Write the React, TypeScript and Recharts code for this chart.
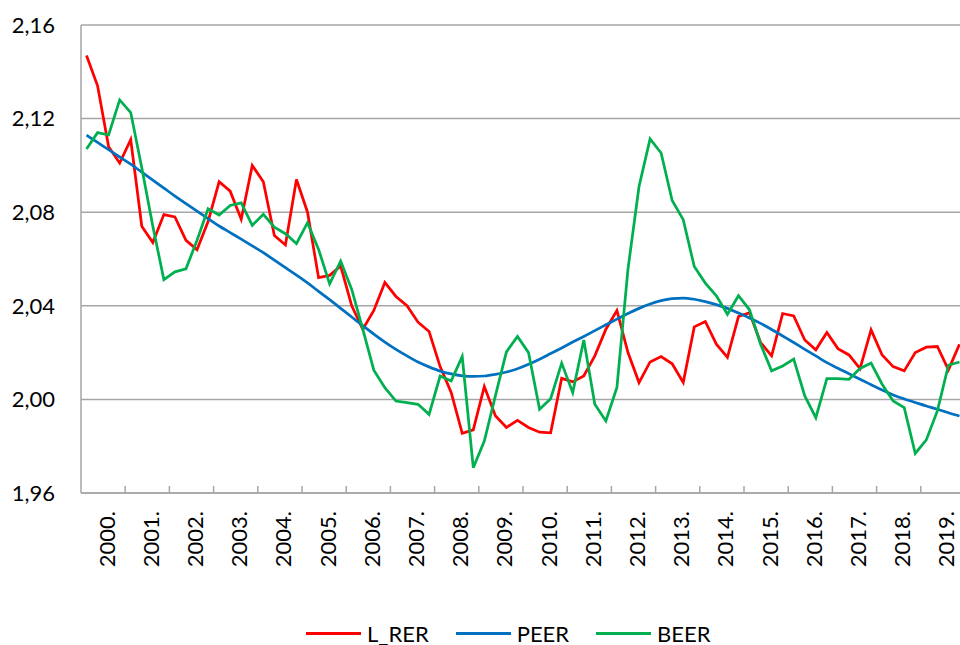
import { LineChart, Line, XAxis, YAxis, CartesianGrid, Legend } from 'recharts';

const years = [
  '2000.', '2001.', '2002.', '2003.', '2004.', '2005.', '2006.', '2007.', '2008.', '2009.',
  '2010.', '2011.', '2012.', '2013.', '2014.', '2015.', '2016.', '2017.', '2018.', '2019.',
];
const quarterNames = ['Q1', 'Q2', 'Q3', 'Q4'];

const yTicks = [1.96, 2.0, 2.04, 2.08, 2.12, 2.16];

// L_RER, quarterly 2000Q1 - 2019Q4
const lRer = [
  2.147, 2.134, 2.108, 2.101, 2.111, 2.074, 2.067, 2.079, 2.078, 2.068,
  2.064, 2.076, 2.093, 2.089, 2.077, 2.100, 2.093, 2.070, 2.066, 2.094,
  2.080, 2.052, 2.053, 2.057, 2.040, 2.030, 2.038, 2.050, 2.044, 2.040,
  2.033, 2.029, 2.014, 2.003, 1.9855, 1.987, 2.0055, 1.993, 1.988, 1.991,
  1.988, 1.986, 1.9857, 2.009, 2.0075, 2.010, 2.0186, 2.030, 2.038, 2.020,
  2.0072, 2.016, 2.0183, 2.0152, 2.0072, 2.031, 2.0333, 2.0236, 2.018, 2.0354,
  2.037, 2.0243, 2.0186, 2.0367, 2.0357, 2.0254, 2.0212, 2.0286, 2.0217, 2.019,
  2.0132, 2.0297, 2.019, 2.014, 2.0122, 2.020, 2.0223, 2.0226, 2.0126, 2.0236,
];

const peer = [
  2.1129, 2.1098, 2.1067, 2.1036, 2.1005, 2.0971, 2.0937, 2.0903, 2.0869, 2.0837,
  2.0805, 2.0773, 2.0741, 2.0713, 2.0685, 2.0656, 2.0627, 2.0595, 2.0563, 2.0531,
  2.0498, 2.0462, 2.0426, 2.0389, 2.0352, 2.0315, 2.0279, 2.0245, 2.0214, 2.0186,
  2.016, 2.0139, 2.0121, 2.0109, 2.0101, 2.0098, 2.01, 2.0107, 2.0117, 2.0131,
  2.015, 2.0172, 2.0196, 2.022, 2.0245, 2.0269, 2.0294, 2.0319, 2.0343, 2.0367,
  2.0389, 2.0408, 2.0422, 2.0431, 2.0433, 2.0428, 2.0418, 2.0405, 2.0389, 2.0369,
  2.0348, 2.0325, 2.0299, 2.0271, 2.0243, 2.0214, 2.0186, 2.0157, 2.0133, 2.011,
  2.0086, 2.0063, 2.004, 2.0019, 2.0002, 1.9987, 1.9972, 1.9958, 1.9943, 1.9929,
];

const beer = [
  2.107, 2.114, 2.113, 2.128, 2.1226, 2.099, 2.074, 2.0512, 2.0545, 2.0558,
  2.068, 2.0815, 2.0788, 2.0829, 2.084, 2.0744, 2.0791, 2.0736, 2.0708, 2.0666,
  2.0755, 2.0641, 2.0494, 2.0591, 2.047, 2.030, 2.0125, 2.005, 1.9993, 1.9986,
  1.9979, 1.9936, 2.010, 2.0079, 2.0183, 1.9708, 1.9822, 2.0015, 2.0203, 2.0269,
  2.020, 1.9958, 2.0003, 2.0155, 2.0029, 2.0254, 1.9979, 1.9908, 2.0051, 2.0557,
  2.091, 2.1113, 2.1053, 2.085, 2.0768, 2.0568, 2.0497, 2.0443, 2.0364, 2.0443,
  2.0383, 2.0236, 2.0122, 2.0143, 2.0172, 2.0015, 1.9922, 2.0089, 2.0089, 2.0086,
  2.0132, 2.0155, 2.0065, 1.9993, 1.9965, 1.9769, 1.9827, 1.9951, 2.0146, 2.016,
];

const quarters = years.flatMap((y) => quarterNames.map((q) => y + q));
const data = quarters.map((q, i) => ({ q, lRer: lRer[i], peer: peer[i], beer: beer[i] }));

const FONT = 'Lato, "Open Sans", sans-serif';
const GRID = '#a6a6a6';

const YearTick = (props: any) => {
  const { x, y, payload } = props;
  const half = payload.offset ?? 5.52;
  const x0 = x - half;
  const lx = x0 + 26;
  const ly = y + 18;
  return (
    <g>
      {payload.index !== 0 && (
        <line x1={x0} x2={x0} y1={y} y2={y - 7} stroke={GRID} strokeWidth={1.5} />
      )}
      <text
        x={lx}
        y={ly}
        transform={`rotate(-90 ${lx} ${ly})`}
        textAnchor="end"
        dy="0.35em"
        fontSize={22}
        fontFamily={FONT}
        fill="#000"
      >
        {String(payload.value).slice(0, 5)}
      </text>
    </g>
  );
};

const legendItems = [
  { key: 'lRer', label: 'L_RER', color: '#ff0000' },
  { key: 'peer', label: 'PEER', color: '#0070c0' },
  { key: 'beer', label: 'BEER', color: '#00b050' },
];

const LegendContent = () => (
  <div
    style={{
      display: 'flex',
      alignItems: 'center',
      paddingLeft: 306,
      paddingTop: 28,
      height: 24,
      fontFamily: FONT,
      fontSize: 22,
      color: '#000',
    }}
  >
    {legendItems.map((it) => (
      <div key={it.key} style={{ display: 'flex', alignItems: 'center', marginRight: 27 }}>
        <div style={{ width: 55, height: 3, background: it.color, marginRight: 6 }} />
        <span>{it.label}</span>
      </div>
    ))}
  </div>
);

export default function App() {
  return (
    <div style={{ position: 'absolute', left: 0, top: 0, width: 960, height: 645, overflow: 'hidden', background: '#fff' }}>
      <LineChart width={965} height={645} data={data} margin={{ top: 25, right: 0, bottom: 0, left: 0 }}>
        <CartesianGrid vertical={false} stroke={GRID} strokeWidth={1.5} />
        <XAxis
          dataKey="q"
          scale="band"
          interval={3}
          height={100}
          tickLine={false}
          tickSize={0}
          tickMargin={0}
          axisLine={{ stroke: GRID, strokeWidth: 1.5 }}
          tick={<YearTick />}
        />
        <YAxis
          width={81}
          domain={[1.96, 2.16]}
          ticks={yTicks}
          interval={0}
          allowDataOverflow
          tickLine={false}
          tickSize={0}
          tickMargin={26}
          axisLine={{ stroke: GRID, strokeWidth: 1.5 }}
          tick={{ fontSize: 22, fontFamily: FONT, fill: '#000' }}
          tickFormatter={(v: number) => v.toFixed(2).replace('.', ',')}
        />
        <Legend verticalAlign="bottom" height={52} content={<LegendContent />} />
        <Line type="linear" dataKey="lRer" name="L_RER" stroke="#ff0000" strokeWidth={2.75} dot={false} activeDot={false} isAnimationActive={false} />
        <Line type="monotone" dataKey="peer" name="PEER" stroke="#0070c0" strokeWidth={2.75} dot={false} activeDot={false} isAnimationActive={false} />
        <Line type="linear" dataKey="beer" name="BEER" stroke="#00b050" strokeWidth={2.75} dot={false} activeDot={false} isAnimationActive={false} />
      </LineChart>
    </div>
  );
}
